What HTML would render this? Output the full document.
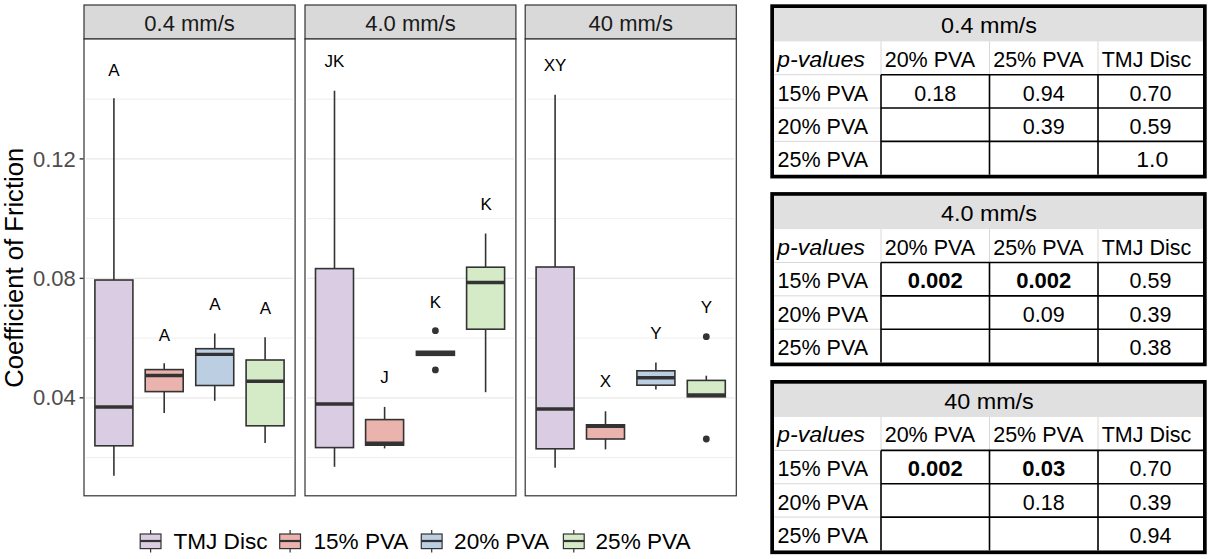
<!DOCTYPE html>
<html><head><meta charset="utf-8"><title>Coefficient of Friction</title>
<style>
html,body{margin:0;padding:0;background:#fff;}
body{width:1210px;height:559px;position:relative;overflow:hidden;font-family:"Liberation Sans", sans-serif;}
svg text{font-family:"Liberation Sans", sans-serif;}
</style></head>
<body>
<svg width="1210" height="559" viewBox="0 0 1210 559" style="position:absolute;left:0;top:0">
<rect x="84.0" y="5.0" width="211.10" height="34.00" fill="#d9d9d9" stroke="#333333" stroke-width="1.2"/>
<text x="189.55" y="30.6" font-size="22" text-anchor="middle" fill="#1a1a1a">0.4 mm/s</text>
<rect x="84.0" y="39.0" width="211.10" height="456.80" fill="#ffffff"/>
<line x1="86.0" x2="293.1" y1="457.57" y2="457.57" stroke="#ececec" stroke-width="0.9"/>
<line x1="86.0" x2="293.1" y1="338.10" y2="338.10" stroke="#ececec" stroke-width="0.9"/>
<line x1="86.0" x2="293.1" y1="218.63" y2="218.63" stroke="#ececec" stroke-width="0.9"/>
<line x1="86.0" x2="293.1" y1="99.16" y2="99.16" stroke="#ececec" stroke-width="0.9"/>
<line x1="86.0" x2="293.1" y1="397.83" y2="397.83" stroke="#e8e8e8" stroke-width="1.3"/>
<line x1="86.0" x2="293.1" y1="278.36" y2="278.36" stroke="#e8e8e8" stroke-width="1.3"/>
<line x1="86.0" x2="293.1" y1="158.90" y2="158.90" stroke="#e8e8e8" stroke-width="1.3"/>
<line x1="113.90" x2="113.90" y1="98.3" y2="280.0" stroke="#333333" stroke-width="1.6"/>
<line x1="113.90" x2="113.90" y1="445.8" y2="475.7" stroke="#333333" stroke-width="1.6"/>
<rect x="94.90" y="280.0" width="38.00" height="165.80" fill="#dacce3" stroke="#333333" stroke-width="1.6"/>
<line x1="94.90" x2="132.90" y1="407.0" y2="407.0" stroke="#333333" stroke-width="3.4"/>
<line x1="164.20" x2="164.20" y1="363.3" y2="369.6" stroke="#333333" stroke-width="1.6"/>
<line x1="164.20" x2="164.20" y1="391.6" y2="413.0" stroke="#333333" stroke-width="1.6"/>
<rect x="145.20" y="369.6" width="38.00" height="22.00" fill="#ebb3ad" stroke="#333333" stroke-width="1.6"/>
<line x1="145.20" x2="183.20" y1="375.5" y2="375.5" stroke="#333333" stroke-width="3.4"/>
<line x1="214.75" x2="214.75" y1="333.5" y2="348.7" stroke="#333333" stroke-width="1.6"/>
<line x1="214.75" x2="214.75" y1="385.5" y2="400.8" stroke="#333333" stroke-width="1.6"/>
<rect x="195.75" y="348.7" width="38.00" height="36.80" fill="#bccee2" stroke="#333333" stroke-width="1.6"/>
<line x1="195.75" x2="233.75" y1="354.4" y2="354.4" stroke="#333333" stroke-width="3.4"/>
<line x1="265.10" x2="265.10" y1="337.2" y2="360.0" stroke="#333333" stroke-width="1.6"/>
<line x1="265.10" x2="265.10" y1="425.8" y2="443.0" stroke="#333333" stroke-width="1.6"/>
<rect x="246.10" y="360.0" width="38.00" height="65.80" fill="#d5eac6" stroke="#333333" stroke-width="1.6"/>
<line x1="246.10" x2="284.10" y1="381.2" y2="381.2" stroke="#333333" stroke-width="3.4"/>
<rect x="84.0" y="39.0" width="211.10" height="456.80" fill="none" stroke="#333333" stroke-width="1.2"/>
<text x="113.8" y="75.69" font-size="17" text-anchor="middle" fill="#000">A</text>
<text x="164.4" y="340.79" font-size="17" text-anchor="middle" fill="#000">A</text>
<text x="214.8" y="309.89" font-size="17" text-anchor="middle" fill="#000">A</text>
<text x="265.4" y="313.59" font-size="17" text-anchor="middle" fill="#000">A</text>
<rect x="305.0" y="5.0" width="210.90" height="34.00" fill="#d9d9d9" stroke="#333333" stroke-width="1.2"/>
<text x="410.45" y="30.6" font-size="22" text-anchor="middle" fill="#1a1a1a">4.0 mm/s</text>
<rect x="305.0" y="39.0" width="210.90" height="456.80" fill="#ffffff"/>
<line x1="307.0" x2="513.9" y1="457.57" y2="457.57" stroke="#ececec" stroke-width="0.9"/>
<line x1="307.0" x2="513.9" y1="338.10" y2="338.10" stroke="#ececec" stroke-width="0.9"/>
<line x1="307.0" x2="513.9" y1="218.63" y2="218.63" stroke="#ececec" stroke-width="0.9"/>
<line x1="307.0" x2="513.9" y1="99.16" y2="99.16" stroke="#ececec" stroke-width="0.9"/>
<line x1="307.0" x2="513.9" y1="397.83" y2="397.83" stroke="#e8e8e8" stroke-width="1.3"/>
<line x1="307.0" x2="513.9" y1="278.36" y2="278.36" stroke="#e8e8e8" stroke-width="1.3"/>
<line x1="307.0" x2="513.9" y1="158.90" y2="158.90" stroke="#e8e8e8" stroke-width="1.3"/>
<line x1="334.50" x2="334.50" y1="90.7" y2="268.6" stroke="#333333" stroke-width="1.6"/>
<line x1="334.50" x2="334.50" y1="447.6" y2="466.8" stroke="#333333" stroke-width="1.6"/>
<rect x="315.50" y="268.6" width="38.00" height="179.00" fill="#dacce3" stroke="#333333" stroke-width="1.6"/>
<line x1="315.50" x2="353.50" y1="404.0" y2="404.0" stroke="#333333" stroke-width="3.4"/>
<line x1="384.60" x2="384.60" y1="406.9" y2="419.6" stroke="#333333" stroke-width="1.6"/>
<line x1="384.60" x2="384.60" y1="445.2" y2="448.4" stroke="#333333" stroke-width="1.6"/>
<rect x="365.60" y="419.6" width="38.00" height="25.60" fill="#ebb3ad" stroke="#333333" stroke-width="1.6"/>
<line x1="365.60" x2="403.60" y1="443.2" y2="443.2" stroke="#333333" stroke-width="3.4"/>
<line x1="435.40" x2="435.40" y1="353.3" y2="353.3" stroke="#333333" stroke-width="1.6"/>
<line x1="435.40" x2="435.40" y1="353.3" y2="353.3" stroke="#333333" stroke-width="1.6"/>
<rect x="415.60" y="350.50" width="39.60" height="5.6" fill="#333333"/>
<circle cx="435.40" cy="330.7" r="3.4" fill="#333333"/>
<circle cx="435.40" cy="369.9" r="3.4" fill="#333333"/>
<line x1="485.60" x2="485.60" y1="233.5" y2="267.2" stroke="#333333" stroke-width="1.6"/>
<line x1="485.60" x2="485.60" y1="329.2" y2="392.2" stroke="#333333" stroke-width="1.6"/>
<rect x="466.60" y="267.2" width="38.00" height="62.00" fill="#d5eac6" stroke="#333333" stroke-width="1.6"/>
<line x1="466.60" x2="504.60" y1="282.5" y2="282.5" stroke="#333333" stroke-width="3.4"/>
<rect x="305.0" y="39.0" width="210.90" height="456.80" fill="none" stroke="#333333" stroke-width="1.2"/>
<text x="334.4" y="67.19" font-size="17" text-anchor="middle" fill="#000">JK</text>
<text x="384.5" y="383.09" font-size="17" text-anchor="middle" fill="#000">J</text>
<text x="435.5" y="308.19" font-size="17" text-anchor="middle" fill="#000">K</text>
<text x="486.1" y="210.39" font-size="17" text-anchor="middle" fill="#000">K</text>
<rect x="525.2" y="5.0" width="211.10" height="34.00" fill="#d9d9d9" stroke="#333333" stroke-width="1.2"/>
<text x="630.75" y="30.6" font-size="22" text-anchor="middle" fill="#1a1a1a">40 mm/s</text>
<rect x="525.2" y="39.0" width="211.10" height="456.80" fill="#ffffff"/>
<line x1="527.2" x2="734.3" y1="457.57" y2="457.57" stroke="#ececec" stroke-width="0.9"/>
<line x1="527.2" x2="734.3" y1="338.10" y2="338.10" stroke="#ececec" stroke-width="0.9"/>
<line x1="527.2" x2="734.3" y1="218.63" y2="218.63" stroke="#ececec" stroke-width="0.9"/>
<line x1="527.2" x2="734.3" y1="99.16" y2="99.16" stroke="#ececec" stroke-width="0.9"/>
<line x1="527.2" x2="734.3" y1="397.83" y2="397.83" stroke="#e8e8e8" stroke-width="1.3"/>
<line x1="527.2" x2="734.3" y1="278.36" y2="278.36" stroke="#e8e8e8" stroke-width="1.3"/>
<line x1="527.2" x2="734.3" y1="158.90" y2="158.90" stroke="#e8e8e8" stroke-width="1.3"/>
<line x1="555.10" x2="555.10" y1="94.7" y2="267.0" stroke="#333333" stroke-width="1.6"/>
<line x1="555.10" x2="555.10" y1="448.8" y2="467.7" stroke="#333333" stroke-width="1.6"/>
<rect x="536.10" y="267.0" width="38.00" height="181.80" fill="#dacce3" stroke="#333333" stroke-width="1.6"/>
<line x1="536.10" x2="574.10" y1="409.0" y2="409.0" stroke="#333333" stroke-width="3.4"/>
<line x1="605.50" x2="605.50" y1="411.3" y2="424.8" stroke="#333333" stroke-width="1.6"/>
<line x1="605.50" x2="605.50" y1="439.0" y2="449.4" stroke="#333333" stroke-width="1.6"/>
<rect x="586.50" y="424.8" width="38.00" height="14.20" fill="#ebb3ad" stroke="#333333" stroke-width="1.6"/>
<line x1="586.50" x2="624.50" y1="426.2" y2="426.2" stroke="#333333" stroke-width="3.4"/>
<line x1="655.90" x2="655.90" y1="362.5" y2="370.8" stroke="#333333" stroke-width="1.6"/>
<line x1="655.90" x2="655.90" y1="385.2" y2="389.5" stroke="#333333" stroke-width="1.6"/>
<rect x="636.90" y="370.8" width="38.00" height="14.40" fill="#bccee2" stroke="#333333" stroke-width="1.6"/>
<line x1="636.90" x2="674.90" y1="377.7" y2="377.7" stroke="#333333" stroke-width="3.4"/>
<line x1="706.30" x2="706.30" y1="375.7" y2="380.4" stroke="#333333" stroke-width="1.6"/>
<line x1="706.30" x2="706.30" y1="396.8" y2="396.8" stroke="#333333" stroke-width="1.6"/>
<rect x="687.30" y="380.4" width="38.00" height="16.40" fill="#d5eac6" stroke="#333333" stroke-width="1.6"/>
<line x1="687.30" x2="725.30" y1="395.0" y2="395.0" stroke="#333333" stroke-width="3.4"/>
<circle cx="706.30" cy="336.7" r="3.4" fill="#333333"/>
<circle cx="706.30" cy="439.0" r="3.4" fill="#333333"/>
<rect x="525.2" y="39.0" width="211.10" height="456.80" fill="none" stroke="#333333" stroke-width="1.2"/>
<text x="555.0" y="71.19" font-size="17" text-anchor="middle" fill="#000">XY</text>
<text x="605.5" y="387.39" font-size="17" text-anchor="middle" fill="#000">X</text>
<text x="655.8" y="339.09" font-size="17" text-anchor="middle" fill="#000">Y</text>
<text x="706.5" y="313.49" font-size="17" text-anchor="middle" fill="#000">Y</text>
<line x1="79.6" x2="83.5" y1="397.832" y2="397.832" stroke="#333333" stroke-width="1.4"/>
<text x="75.8" y="405.43" font-size="22" text-anchor="end" fill="#4d4d4d">0.04</text>
<line x1="79.6" x2="83.5" y1="278.364" y2="278.364" stroke="#333333" stroke-width="1.4"/>
<text x="75.8" y="285.96" font-size="22" text-anchor="end" fill="#4d4d4d">0.08</text>
<line x1="79.6" x2="83.5" y1="158.89600000000002" y2="158.89600000000002" stroke="#333333" stroke-width="1.4"/>
<text x="75.8" y="166.50" font-size="22" text-anchor="end" fill="#4d4d4d">0.12</text>
<text transform="translate(23.1,267.8) rotate(-90)" x="0" y="0" font-size="25.6" text-anchor="middle" fill="#000">Coefficient of Friction</text>
<line x1="150.60" x2="150.60" y1="529.9" y2="552.5" stroke="#333333" stroke-width="1.2"/>
<rect x="140.2" y="534.0" width="20.8" height="14.6" fill="#dacce3" stroke="#333333" stroke-width="1.2"/>
<line x1="140.2" x2="161.00" y1="541.0" y2="541.0" stroke="#333333" stroke-width="2.2"/>
<text x="173.4" y="549.2" font-size="22.6" fill="#000">TMJ Disc</text>
<line x1="290.10" x2="290.10" y1="529.9" y2="552.5" stroke="#333333" stroke-width="1.2"/>
<rect x="279.7" y="534.0" width="20.8" height="14.6" fill="#ebb3ad" stroke="#333333" stroke-width="1.2"/>
<line x1="279.7" x2="300.50" y1="541.0" y2="541.0" stroke="#333333" stroke-width="2.2"/>
<text x="313.4" y="549.2" font-size="22.6" fill="#000">15% PVA</text>
<line x1="431.70" x2="431.70" y1="529.9" y2="552.5" stroke="#333333" stroke-width="1.2"/>
<rect x="421.3" y="534.0" width="20.8" height="14.6" fill="#bccee2" stroke="#333333" stroke-width="1.2"/>
<line x1="421.3" x2="442.10" y1="541.0" y2="541.0" stroke="#333333" stroke-width="2.2"/>
<text x="454.1" y="549.2" font-size="22.6" fill="#000">20% PVA</text>
<line x1="573.80" x2="573.80" y1="529.9" y2="552.5" stroke="#333333" stroke-width="1.2"/>
<rect x="563.4" y="534.0" width="20.8" height="14.6" fill="#d5eac6" stroke="#333333" stroke-width="1.2"/>
<line x1="563.4" x2="584.20" y1="541.0" y2="541.0" stroke="#333333" stroke-width="2.2"/>
<text x="595.5" y="549.2" font-size="22.6" fill="#000">25% PVA</text>
<rect x="774.0" y="8.0" width="429.0" height="33.35" fill="#e0e0e0"/>
<line x1="881.0" x2="881.0" y1="41.35" y2="74.7" stroke="#d8d8d8" stroke-width="1"/>
<line x1="989.5" x2="989.5" y1="41.35" y2="74.7" stroke="#d8d8d8" stroke-width="1"/>
<line x1="1098.0" x2="1098.0" y1="41.35" y2="74.7" stroke="#d8d8d8" stroke-width="1"/>
<line x1="774.0" x2="881.0" y1="74.70" y2="74.70" stroke="#d8d8d8" stroke-width="1"/>
<line x1="774.0" x2="881.0" y1="108.05" y2="108.05" stroke="#d8d8d8" stroke-width="1"/>
<line x1="774.0" x2="881.0" y1="141.40" y2="141.40" stroke="#d8d8d8" stroke-width="1"/>
<line x1="881.0" x2="1203.0" y1="74.70" y2="74.70" stroke="#000" stroke-width="1.6"/>
<line x1="881.0" x2="1203.0" y1="108.05" y2="108.05" stroke="#000" stroke-width="1.6"/>
<line x1="881.0" x2="1203.0" y1="141.40" y2="141.40" stroke="#000" stroke-width="1.6"/>
<line x1="881.0" x2="881.0" y1="74.70" y2="174.75" stroke="#000" stroke-width="1.6"/>
<line x1="989.5" x2="989.5" y1="74.70" y2="174.75" stroke="#000" stroke-width="1.6"/>
<line x1="1098.0" x2="1098.0" y1="74.70" y2="174.75" stroke="#000" stroke-width="1.6"/>
<rect x="772.15" y="6.15" width="432.7" height="170.45" fill="none" stroke="#000" stroke-width="3.7"/>
<text x="989.0" y="33.35" font-size="21.5" text-anchor="middle" fill="#000" textLength="96" lengthAdjust="spacingAndGlyphs">0.4 mm/s</text>
<text x="777.0" y="66.70" font-size="21.5" font-style="italic" fill="#000" textLength="88" lengthAdjust="spacingAndGlyphs">p-values</text>
<text x="884.7" y="66.70" font-size="21.5" fill="#000">20% PVA</text>
<text x="993.2" y="66.70" font-size="21.5" fill="#000">25% PVA</text>
<text x="1101.7" y="66.70" font-size="21.5" fill="#000">TMJ Disc</text>
<text x="777.6" y="100.55" font-size="21.5" fill="#000">15% PVA</text>
<text x="935.25" y="100.55" font-size="21.5" text-anchor="middle" fill="#000">0.18</text>
<text x="1043.75" y="100.55" font-size="21.5" text-anchor="middle" fill="#000">0.94</text>
<text x="1150.50" y="100.55" font-size="21.5" text-anchor="middle" fill="#000">0.70</text>
<text x="777.6" y="133.90" font-size="21.5" fill="#000">20% PVA</text>
<text x="1043.75" y="133.90" font-size="21.5" text-anchor="middle" fill="#000">0.39</text>
<text x="1150.50" y="133.90" font-size="21.5" text-anchor="middle" fill="#000">0.59</text>
<text x="777.6" y="167.25" font-size="21.5" fill="#000">25% PVA</text>
<text x="1152.30" y="167.25" font-size="21.5" text-anchor="middle" fill="#000" textLength="32" lengthAdjust="spacingAndGlyphs">1.0</text>
<rect x="774.0" y="195.79999999999998" width="429.0" height="33.35" fill="#e0e0e0"/>
<line x1="881.0" x2="881.0" y1="229.14999999999998" y2="262.5" stroke="#d8d8d8" stroke-width="1"/>
<line x1="989.5" x2="989.5" y1="229.14999999999998" y2="262.5" stroke="#d8d8d8" stroke-width="1"/>
<line x1="1098.0" x2="1098.0" y1="229.14999999999998" y2="262.5" stroke="#d8d8d8" stroke-width="1"/>
<line x1="774.0" x2="881.0" y1="262.50" y2="262.50" stroke="#d8d8d8" stroke-width="1"/>
<line x1="774.0" x2="881.0" y1="295.85" y2="295.85" stroke="#d8d8d8" stroke-width="1"/>
<line x1="774.0" x2="881.0" y1="329.20" y2="329.20" stroke="#d8d8d8" stroke-width="1"/>
<line x1="881.0" x2="1203.0" y1="262.50" y2="262.50" stroke="#000" stroke-width="1.6"/>
<line x1="881.0" x2="1203.0" y1="295.85" y2="295.85" stroke="#000" stroke-width="1.6"/>
<line x1="881.0" x2="1203.0" y1="329.20" y2="329.20" stroke="#000" stroke-width="1.6"/>
<line x1="881.0" x2="881.0" y1="262.50" y2="362.55" stroke="#000" stroke-width="1.6"/>
<line x1="989.5" x2="989.5" y1="262.50" y2="362.55" stroke="#000" stroke-width="1.6"/>
<line x1="1098.0" x2="1098.0" y1="262.50" y2="362.55" stroke="#000" stroke-width="1.6"/>
<rect x="772.15" y="193.95" width="432.7" height="170.45" fill="none" stroke="#000" stroke-width="3.7"/>
<text x="989.0" y="221.15" font-size="21.5" text-anchor="middle" fill="#000" textLength="96" lengthAdjust="spacingAndGlyphs">4.0 mm/s</text>
<text x="777.0" y="254.50" font-size="21.5" font-style="italic" fill="#000" textLength="88" lengthAdjust="spacingAndGlyphs">p-values</text>
<text x="884.7" y="254.50" font-size="21.5" fill="#000">20% PVA</text>
<text x="993.2" y="254.50" font-size="21.5" fill="#000">25% PVA</text>
<text x="1101.7" y="254.50" font-size="21.5" fill="#000">TMJ Disc</text>
<text x="777.6" y="288.35" font-size="21.5" fill="#000">15% PVA</text>
<text x="935.25" y="288.35" font-size="22" text-anchor="middle" font-weight="bold" fill="#000">0.002</text>
<text x="1043.75" y="288.35" font-size="22" text-anchor="middle" font-weight="bold" fill="#000">0.002</text>
<text x="1150.50" y="288.35" font-size="21.5" text-anchor="middle" fill="#000">0.59</text>
<text x="777.6" y="321.70" font-size="21.5" fill="#000">20% PVA</text>
<text x="1043.75" y="321.70" font-size="21.5" text-anchor="middle" fill="#000">0.09</text>
<text x="1150.50" y="321.70" font-size="21.5" text-anchor="middle" fill="#000">0.39</text>
<text x="777.6" y="355.05" font-size="21.5" fill="#000">25% PVA</text>
<text x="1150.50" y="355.05" font-size="21.5" text-anchor="middle" fill="#000">0.38</text>
<rect x="774.0" y="383.7" width="429.0" height="33.35" fill="#e0e0e0"/>
<line x1="881.0" x2="881.0" y1="417.05" y2="450.4" stroke="#d8d8d8" stroke-width="1"/>
<line x1="989.5" x2="989.5" y1="417.05" y2="450.4" stroke="#d8d8d8" stroke-width="1"/>
<line x1="1098.0" x2="1098.0" y1="417.05" y2="450.4" stroke="#d8d8d8" stroke-width="1"/>
<line x1="774.0" x2="881.0" y1="450.40" y2="450.40" stroke="#d8d8d8" stroke-width="1"/>
<line x1="774.0" x2="881.0" y1="483.75" y2="483.75" stroke="#d8d8d8" stroke-width="1"/>
<line x1="774.0" x2="881.0" y1="517.10" y2="517.10" stroke="#d8d8d8" stroke-width="1"/>
<line x1="881.0" x2="1203.0" y1="450.40" y2="450.40" stroke="#000" stroke-width="1.6"/>
<line x1="881.0" x2="1203.0" y1="483.75" y2="483.75" stroke="#000" stroke-width="1.6"/>
<line x1="881.0" x2="1203.0" y1="517.10" y2="517.10" stroke="#000" stroke-width="1.6"/>
<line x1="881.0" x2="881.0" y1="450.40" y2="550.45" stroke="#000" stroke-width="1.6"/>
<line x1="989.5" x2="989.5" y1="450.40" y2="550.45" stroke="#000" stroke-width="1.6"/>
<line x1="1098.0" x2="1098.0" y1="450.40" y2="550.45" stroke="#000" stroke-width="1.6"/>
<rect x="772.15" y="381.85" width="432.7" height="170.45" fill="none" stroke="#000" stroke-width="3.7"/>
<text x="989.0" y="409.05" font-size="21.5" text-anchor="middle" fill="#000" textLength="89.5" lengthAdjust="spacingAndGlyphs">40 mm/s</text>
<text x="777.0" y="442.40" font-size="21.5" font-style="italic" fill="#000" textLength="88" lengthAdjust="spacingAndGlyphs">p-values</text>
<text x="884.7" y="442.40" font-size="21.5" fill="#000">20% PVA</text>
<text x="993.2" y="442.40" font-size="21.5" fill="#000">25% PVA</text>
<text x="1101.7" y="442.40" font-size="21.5" fill="#000">TMJ Disc</text>
<text x="777.6" y="476.25" font-size="21.5" fill="#000">15% PVA</text>
<text x="935.25" y="476.25" font-size="22" text-anchor="middle" font-weight="bold" fill="#000">0.002</text>
<text x="1043.75" y="476.25" font-size="22" text-anchor="middle" font-weight="bold" fill="#000">0.03</text>
<text x="1150.50" y="476.25" font-size="21.5" text-anchor="middle" fill="#000">0.70</text>
<text x="777.6" y="509.60" font-size="21.5" fill="#000">20% PVA</text>
<text x="1043.75" y="509.60" font-size="21.5" text-anchor="middle" fill="#000">0.18</text>
<text x="1150.50" y="509.60" font-size="21.5" text-anchor="middle" fill="#000">0.39</text>
<text x="777.6" y="542.95" font-size="21.5" fill="#000">25% PVA</text>
<text x="1150.50" y="542.95" font-size="21.5" text-anchor="middle" fill="#000">0.94</text>
</svg>
</body></html>
